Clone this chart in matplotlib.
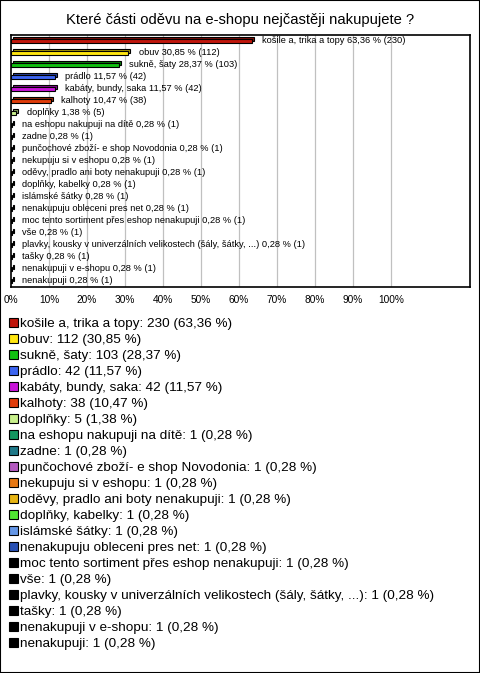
import matplotlib
matplotlib.use('Agg')
import matplotlib.pyplot as plt
from matplotlib.patches import Rectangle
import matplotlib.colors as mcolors

plt.rcParams['font.family'] = ['Liberation Sans', 'DejaVu Sans']

labels = [
    'košile a, trika a topy', 'obuv', 'sukně, šaty', 'prádlo', 'kabáty, bundy, saka',
    'kalhoty', 'doplňky', 'na eshopu nakupuji na dítě', 'zadne',
    'punčochové zboží- e shop Novodonia', 'nekupuju si v eshopu',
    'oděvy, pradlo ani boty nenakupuji', 'doplňky, kabelky', 'islámské šátky',
    'nenakupuju obleceni pres net', 'moc tento sortiment přes eshop nenakupuji',
    'vše', 'plavky, kousky v univerzálních velikostech (šály, šátky, ...)',
    'tašky', 'nenakupuji v e-shopu', 'nenakupuji',
]
counts = [230, 112, 103, 42, 42, 38, 5, 1, 1, 1, 1, 1, 1, 1, 1, 1, 1, 1, 1, 1, 1]
percents = [63.36, 30.85, 28.37, 11.57, 11.57, 10.47, 1.38, 0.28, 0.28, 0.28, 0.28,
            0.28, 0.28, 0.28, 0.28, 0.28, 0.28, 0.28, 0.28, 0.28, 0.28]
colors = ['#c0160c', '#ffe610', '#10c010', '#3c64f0', '#c814d8', '#e03c0a',
          '#c8f08c', '#149660', '#1e7888', '#b45ac0', '#e67814', '#e6b414',
          '#50e632', '#6496e6', '#2850b4', '#000000', '#000000', '#000000',
          '#000000', '#000000', '#000000']
ticks = list(range(0, 101, 10))


def fmt(v):
    return f'{v:.2f}'.replace('.', ',')


W, H = 480, 673
fig = plt.figure(figsize=(W / 100, H / 100), dpi=100)
fig.patches.append(Rectangle((0, 0), 1, 1, transform=fig.transFigure, fill=False,
                             edgecolor='black', linewidth=1.5))

fig.text(0.5, 1 - 20 / H, 'Které části oděvu na e-shopu nejčastěji nakupujete ?',
         ha='center', va='center', fontsize=10.6)

ax = fig.add_axes([11 / W, 1 - 287 / H, 459 / W, 252 / H])
ax.set_xlim(0, 459 / 3.8)
ax.set_ylim(len(labels) - 0.5, -0.5)
for t in ticks[1:]:
    ax.axvline(t, color='#c0c0c0', linewidth=0.9, zorder=0)

dx = 2 / 3.8          # 3d depth, ~2 px
dy = 2 / 12.0
h = 0.34
for i, (lab, c, p) in enumerate(zip(labels, counts, percents)):
    dark = tuple(v * 0.65 for v in mcolors.to_rgb(colors[i]))
    ax.barh(i - dy, p, left=dx, height=h, color=dark, edgecolor='black',
            linewidth=0.8, zorder=2)
    ax.barh(i, p, height=h, color=colors[i], edgecolor='black', linewidth=0.8, zorder=3)
    ax.annotate(f'{lab} {fmt(p)} % ({c})', (p + dx, i - 0.05), xytext=(6, 0),
                textcoords='offset points', va='center', ha='left', fontsize=6.7,
                zorder=4)

ax.set_xticks(ticks)
ax.set_xticklabels([f'{t}%' for t in ticks], fontsize=7.3)
ax.tick_params(axis='x', length=0, pad=6)
ax.set_yticks([])
for s in ax.spines.values():
    s.set_linewidth(1.2)

# legend
for i, (lab, c, p) in enumerate(zip(labels, counts, percents)):
    y = 322 + 16 * i
    fig.patches.append(Rectangle((9 / W, 1 - (y + 4.5) / H), 9 / W, 9 / H,
                                 transform=fig.transFigure, facecolor=colors[i],
                                 edgecolor='black', linewidth=0.8))
    fig.text(20 / W, 1 - (y + 4.5) / H, f'{lab}: {c} ({fmt(p)} %)', ha='left',
             va='baseline', fontsize=9.7)

fig.savefig('out.png', dpi=100)
